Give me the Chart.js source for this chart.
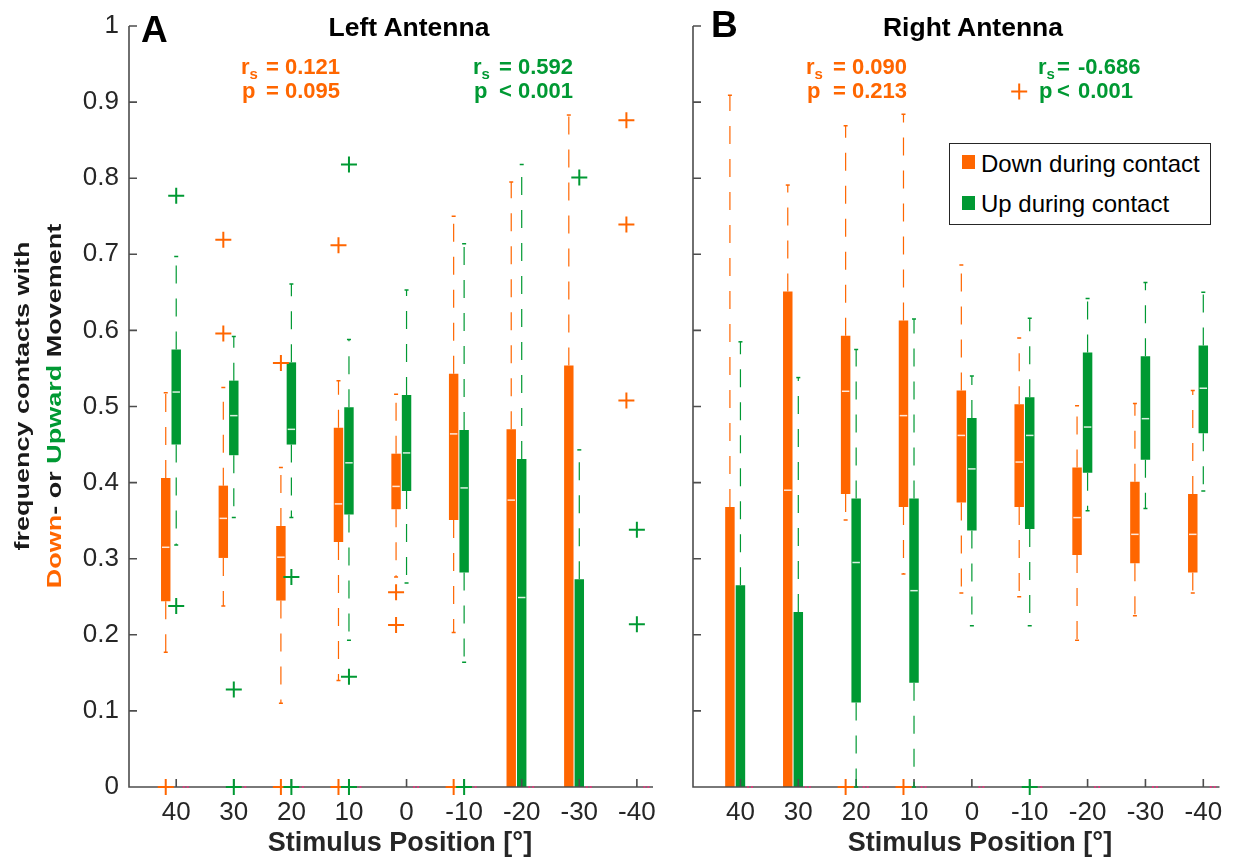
<!DOCTYPE html>
<html>
<head>
<meta charset="utf-8">
<title>Antenna movement during contact</title>
<script src="https://cdn.jsdelivr.net/npm/chart.js@4.4.1/dist/chart.umd.min.js"></script>
<style>
  body { margin: 0; width: 1233px; height: 859px; position: relative; overflow: hidden; background: #fff; font-family: "Liberation Sans", Arial, sans-serif; color: #000; }
  .panel { position: absolute; top: 0; height: 859px; }
  #left-panel { left: 0; width: 680px; }
  #right-panel { left: 680px; width: 553px; }
  .txt { position: absolute; white-space: nowrap; line-height: 1; }
  .ylab { position: absolute; white-space: nowrap; line-height: 1; font-weight: bold; font-size: 27px; color: #1a1a1a;
          transform: translate(-50%, -50%) rotate(-90deg) scaleY(0.78); }
  #legend { position: absolute; left: 949px; top: 143px; width: 262px; height: 82px; box-sizing: border-box; border: 1.5px solid #262626; background: #fff; }
  .swatch { position: absolute; left: 12px; width: 13px; height: 14px; }
  .sub { font-size: 15px; position: relative; top: 5px; }
</style>
</head>
<body>
<div class="panel" id="left-panel"><canvas id="leftChart"></canvas></div>
<div class="panel" id="right-panel"><canvas id="rightChart"></canvas></div>

<div class="ylab" style="left:22px; top:396px;">frequency contacts with</div>
<div class="ylab" style="left:54px; top:406px;"><span style="color:#ff6600">Down</span>- or <span style="color:#009933">Upward</span> Movement</div>

<div id="legend">
  <div class="swatch" style="top:11px; background:#ff6600;"></div>
  <div class="txt" style="left:31px; top:8px; font-size:24px;">Down during contact</div>
  <div class="swatch" style="top:52px; background:#009933;"></div>
  <div class="txt" style="left:31px; top:48px; font-size:24px;">Up during contact</div>
</div>

<script>
// Data
const positions = ['40', '30', '20', '10', '0', '-10', '-20', '-30', '-40'];
const yTickValues = [0, 0.1, 0.2, 0.3, 0.4, 0.5, 0.6, 0.7, 0.8, 0.9, 1];

// each box: [lower whisker, q1, median, q3, upper whisker], null = no box
const leftDownBoxes = [
    [0.177, 0.244, 0.315, 0.406, 0.518],
    [0.238, 0.301, 0.353, 0.396, 0.525],
    [0.110, 0.245, 0.302, 0.343, 0.420],
    [0.140, 0.322, 0.372, 0.472, 0.534],
    [0.276, 0.365, 0.395, 0.438, 0.516],
    [0.203, 0.351, 0.464, 0.543, 0.750],
    [0, 0, 0.377, 0.470, 0.795],
    [0, 0, 0, 0.554, 0.883],
    null
];
const leftDownOutliers = [[0], [0.719, 0.596], [0.557, 0], [0.712, 0], [0.256, 0.213], [0], [], [], [0.876, 0.739, 0.508]];

const leftUpBoxes = [
    [0.318, 0.450, 0.519, 0.575, 0.697],
    [0.354, 0.436, 0.488, 0.534, 0.592],
    [0.354, 0.450, 0.470, 0.558, 0.661],
    [0.193, 0.358, 0.426, 0.499, 0.588],
    [0.268, 0.389, 0.439, 0.515, 0.653],
    [0.164, 0.282, 0.393, 0.469, 0.714],
    [0, 0, 0.249, 0.431, 0.818],
    [0, 0, 0, 0.273, 0.443],
    null
];
const leftUpOutliers = [[0.777, 0.238], [0.128, 0], [0.276, 0], [0.818, 0.145, 0], [], [0], [], [0.801], [0.338, 0.214]];

const rightDownBoxes = [
    [0, 0, 0, 0.368, 0.909],
    [0, 0, 0.390, 0.651, 0.791],
    [0.351, 0.385, 0.520, 0.593, 0.869],
    [0.280, 0.368, 0.488, 0.613, 0.884],
    [0.255, 0.374, 0.462, 0.521, 0.686],
    [0.250, 0.368, 0.427, 0.503, 0.590],
    [0.193, 0.305, 0.354, 0.420, 0.501],
    [0.225, 0.294, 0.332, 0.401, 0.504],
    [0.255, 0.282, 0.332, 0.385, 0.521]
];
const rightDownOutliers = [[], [], [0], [0], [], [0.914], [], [], []];

const rightUpBoxes = [
    [0, 0, 0, 0.265, 0.585],
    [0, 0, 0, 0.230, 0.538],
    [0, 0.111, 0.295, 0.379, 0.575],
    [0, 0.137, 0.258, 0.379, 0.615],
    [0.212, 0.337, 0.418, 0.485, 0.540],
    [0.212, 0.339, 0.462, 0.512, 0.616],
    [0.363, 0.413, 0.473, 0.571, 0.642],
    [0.366, 0.430, 0.484, 0.566, 0.663],
    [0.389, 0.465, 0.524, 0.580, 0.650]
];
const rightUpOutliers = [[], [], [], [], [], [0], [], [], []];

const DOWN_COLOR = '#ff6600';
const UP_COLOR = '#009933';
const AXIS_COLOR = '#4d4d4d';

Chart.defaults.font.family = '"Liberation Sans", Arial, sans-serif';
Chart.defaults.color = '#262626';

// floating bars (q1..q3) on a numeric x axis, one slot per group
function toBars(boxes) {
    return boxes.map((b, i) => b ? { x: i + 1, y: [b[1], b[3]] } : null).filter(Boolean);
}

function drawPlus(ctx, px, py, color) {
    ctx.strokeStyle = color;
    ctx.lineWidth = 2;
    ctx.setLineDash([]);
    ctx.beginPath();
    ctx.moveTo(px - 8, py); ctx.lineTo(px + 8, py);
    ctx.moveTo(px, py - 8); ctx.lineTo(px, py + 8);
    ctx.stroke();
}

// whiskers, medians, outliers and MATLAB-style inward axes
const boxPlotExtras = {
    id: 'boxPlotExtras',
    afterDatasetsDraw(chart, args, opts) {
        const { ctx, chartArea: area, scales: { x, y } } = chart;
        ctx.save();

        ctx.strokeStyle = AXIS_COLOR;
        ctx.lineWidth = 1.6;
        ctx.beginPath();
        ctx.moveTo(area.left, area.top);
        ctx.lineTo(area.left, area.bottom);
        ctx.lineTo(area.right, area.bottom);
        yTickValues.forEach(v => {
            const py = y.getPixelForValue(v);
            ctx.moveTo(area.left, py); ctx.lineTo(area.left + 8, py);
        });
        positions.forEach((p, i) => {
            const px = x.getPixelForValue(i + 1);
            ctx.moveTo(px, area.bottom); ctx.lineTo(px, area.bottom - 8);
        });
        ctx.stroke();

        // empty third group sitting on the axis
        const dummy = chart.getDatasetMeta(2);
        ctx.strokeStyle = '#d6407e';
        ctx.lineWidth = 2;
        ctx.setLineDash([2, 2]);
        dummy.data.forEach(el => {
            ctx.beginPath();
            ctx.moveTo(el.x - 4, area.bottom); ctx.lineTo(el.x + 4, area.bottom);
            ctx.stroke();
        });

        opts.groups.forEach((g, gi) => {
            const meta = chart.getDatasetMeta(gi);
            const first = meta.data[0];
            const offset = first.x - x.getPixelForValue(chart.data.datasets[gi].data[0].x);
            const w = first.width;
            g.boxes.forEach((b, i) => {
                const cx = x.getPixelForValue(i + 1) + offset;
                if (b) {
                    const [lo, q1, med, q3, hi] = b.map(v => y.getPixelForValue(v));
                    ctx.strokeStyle = g.color;
                    ctx.lineWidth = 1.2;
                    ctx.setLineDash([18, 15]);
                    ctx.beginPath();
                    if (b[4] > b[3]) { ctx.moveTo(cx, q3); ctx.lineTo(cx, hi); }
                    if (b[0] < b[1]) { ctx.moveTo(cx, q1); ctx.lineTo(cx, lo); }
                    ctx.stroke();
                    ctx.setLineDash([]);
                    ctx.lineWidth = 1.5;
                    ctx.beginPath();
                    if (b[4] > b[3]) { ctx.moveTo(cx - 2, hi); ctx.lineTo(cx + 2, hi); }
                    if (b[0] < b[1]) { ctx.moveTo(cx - 2, lo); ctx.lineTo(cx + 2, lo); }
                    ctx.stroke();
                    if (b[2] > 0) {
                        ctx.strokeStyle = 'rgba(255,255,255,0.85)';
                        ctx.lineWidth = 1.5;
                        ctx.beginPath();
                        ctx.moveTo(cx - w / 2 + 1, med); ctx.lineTo(cx + w / 2 - 1, med);
                        ctx.stroke();
                    }
                }
                g.outliers[i].forEach(v => drawPlus(ctx, cx, y.getPixelForValue(v), g.color));
            });
        });
        ctx.restore();
    }
};

function makeChart(canvasId, downBoxes, upBoxes, downOut, upOut, yWidth, padRight, showYLabels) {
    const ctx = document.getElementById(canvasId).getContext('2d');
    return new Chart(ctx, {
        type: 'bar',
        data: {
            datasets: [
                { label: 'Down during contact', data: toBars(downBoxes), backgroundColor: DOWN_COLOR },
                { label: 'Up during contact', data: toBars(upBoxes), backgroundColor: UP_COLOR },
                { label: 'none', data: positions.map((p, i) => ({ x: i + 1, y: [0, 0] })), backgroundColor: 'rgba(0,0,0,0)' }
            ]
        },
        options: {
            responsive: true,
            maintainAspectRatio: false,
            devicePixelRatio: 1,
            animation: false,
            categoryPercentage: 0.546,
            barPercentage: 0.9,
            borderWidth: 0,
            layout: { padding: { top: 26, right: padRight, bottom: 0, left: 0 } },
            plugins: {
                legend: { display: false },
                tooltip: { enabled: false },
                boxPlotExtras: {
                    groups: [
                        { boxes: downBoxes, outliers: downOut, color: DOWN_COLOR },
                        { boxes: upBoxes, outliers: upOut, color: UP_COLOR }
                    ]
                }
            },
            scales: {
                x: {
                    type: 'linear',
                    offset: false,
                    min: 0.18,
                    max: 9.28,
                    grid: { display: false, drawTicks: false, offset: false },
                    border: { display: false },
                    afterBuildTicks: axis => { axis.ticks = positions.map((p, i) => ({ value: i + 1 })); },
                    afterFit: axis => { axis.height = 72; axis.paddingLeft = 0; axis.paddingRight = 0; },
                    ticks: {
                        autoSkip: false,
                        maxRotation: 0,
                        padding: 10,
                        font: { size: 26 },
                        callback: value => positions[value - 1]
                    }
                },
                y: {
                    min: 0,
                    max: 1,
                    grid: { display: false, drawTicks: false },
                    border: { display: false },
                    afterBuildTicks: axis => { axis.ticks = yTickValues.map(v => ({ value: v })); },
                    afterFit: axis => { axis.width = yWidth; axis.paddingTop = 0; axis.paddingBottom = 0; },
                    ticks: {
                        display: showYLabels,
                        padding: 10,
                        font: { size: 26 },
                        callback: value => String(value)
                    }
                }
            }
        },
        plugins: [boxPlotExtras]
    });
}

makeChart('leftChart', leftDownBoxes, leftUpBoxes, leftDownOutliers, leftUpOutliers, 129, 27, true);
makeChart('rightChart', rightDownBoxes, rightUpBoxes, rightDownOutliers, rightUpOutliers, 13, 13.5, false);

// Text: panel letters, titles, statistics, axis titles
function addText(html, x, baseline, size, opts = {}) {
    const el = document.createElement('div');
    el.className = 'txt';
    el.innerHTML = html;
    el.style.fontSize = size + 'px';
    el.style.left = x + 'px';
    el.style.top = (baseline - 0.8465 * size) + 'px';
    if (opts.bold) el.style.fontWeight = 'bold';
    if (opts.color) el.style.color = opts.color;
    if (opts.center) el.style.transform = 'translateX(-50%)';
    document.body.appendChild(el);
}

function addStat(x, xEq, xVal, rel, r, p, color) {
    addText('r<span class="sub">s</span>', x, 75, 22, { bold: true, color });
    addText('=', xEq, 75, 22, { bold: true, color });
    addText(r, xVal, 75, 22, { bold: true, color });
    addText('p', x + 1, 99, 22, { bold: true, color });
    addText(rel, xEq, 99, 22, { bold: true, color });
    addText(p, xVal, 99, 22, { bold: true, color });
}

addText('A', 141, 42, 37, { bold: true });
addText('B', 711, 37, 37, { bold: true });
addText('Left Antenna', 409, 36, 26.5, { bold: true, center: true });
addText('Right Antenna', 973, 36, 26.5, { bold: true, center: true });

addStat(241, 266, 285, '=', '0.121', '0.095', DOWN_COLOR);
addStat(473, 499, 518, '&lt;', '0.592', '0.001', UP_COLOR);
addStat(806, 833, 852, '=', '0.090', '0.213', DOWN_COLOR);
addStat(1038, 1057, 1078, '&lt;', '-0.686', '0.001', UP_COLOR);

addText('Stimulus Position [°]', 400, 852, 27, { bold: true, center: true, color: '#262626' });
addText('Stimulus Position [°]', 980, 852, 27, { bold: true, center: true, color: '#262626' });
</script>
</body>
</html>
